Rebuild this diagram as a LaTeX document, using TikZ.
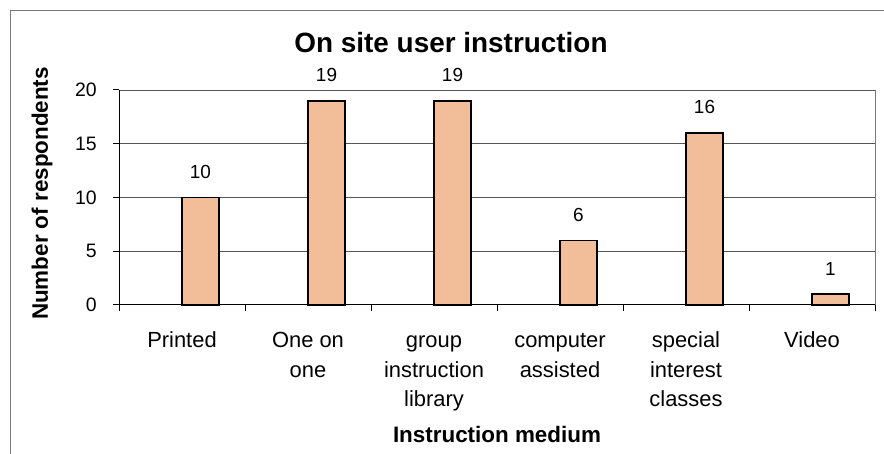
\documentclass[tikz,border=0pt]{standalone}
\usepackage{fontspec}
\setmainfont{Liberation Sans}
\usetikzlibrary{positioning}
\definecolor{barfill}{RGB}{242,190,154}
\definecolor{gridgray}{RGB}{85,85,85}
\definecolor{framegray}{RGB}{120,120,120}

\begin{document}
\begin{tikzpicture}[
  x=1bp, y=1bp,
  gridline/.style={draw=gridgray, line width=0.8bp},
  axisline/.style={draw=black, line width=1bp},
  barbox/.style={draw=black, line width=1.6bp, fill=barfill},
  ticklabel/.style={anchor=east, inner sep=0pt, font=\fontsize{19.5}{24}\selectfont},
  valuelabel/.style={inner sep=0pt, font=\fontsize{19}{24}\selectfont},
  catlabel/.style={anchor=north, align=center, inner sep=0pt, font=\fontsize{22}{30}\selectfont},
  axistitle/.style={inner sep=0pt, font=\bfseries\fontsize{22.5}{27}\selectfont},
  charttitle/.style={inner sep=0pt, font=\bfseries\fontsize{28}{32}\selectfont}
]
  \useasboundingbox (0,0) rectangle (884,454);
  % outer frame, cut off at the image edge
  \draw[framegray, line width=1bp] (10,0) -- (10,443) -- (884,443);

  % grid and plot border
  \foreach \t in {5,10,15,20}
    \draw[gridline] (119,149+10.75*\t) -- (875,149+10.75*\t);
  \draw[draw=framegray, line width=0.8bp] (875,149) -- (875,364);

  % bars with values and category names
  \foreach \v/\lbl [count=\i] in {10/Printed, 19/{One on\\one}, 19/{group\\instruction\\library},
      6/{computer\\assisted}, 16/{special\\interest\\classes}, 1/Video} {
    \pgfmathsetmacro\cx{119+126*(\i-0.5)}
    \pgfmathsetmacro\bt{149+10.75*\v}
    \draw[barbox] (\cx,149) rectangle (\cx+37,\bt);
    \coordinate (top\i) at (\cx+18.5,\bt);
    \node[valuelabel, above=19bp of top\i] (val\i) {\v};
    \node[catlabel] (cat\i) at (\cx,128) {\strut\lbl};
  }

  % axes and ticks
  \draw[axisline] (119,149) -- (119,364);
  \draw[axisline] (119,149) -- (875,149);
  \foreach \t in {0,5,...,20} {
    \draw[axisline] (113,149+10.75*\t) -- (119,149+10.75*\t);
    \node[ticklabel] (tick\t) at (97,149+10.75*\t) {\t};
  }
  \foreach \k in {0,...,6}
    \draw[axisline] (119+126*\k,149) -- (119+126*\k,143);

  % titles
  \node[charttitle, anchor=base] (title) at (451,401) {On site user instruction};
  \node[axistitle, rotate=90] (ytitle) at (42,260.5) {Number of respondents};
  \node[axistitle, anchor=base] (xtitle) at (497,11) {Instruction medium};
\end{tikzpicture}
\end{document}
